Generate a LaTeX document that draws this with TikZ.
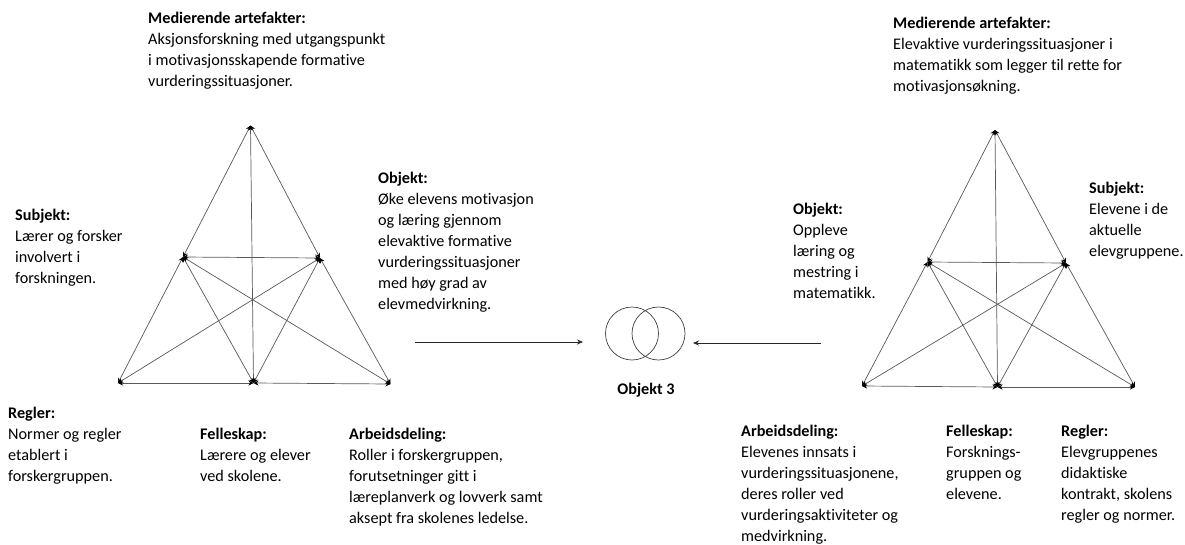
\documentclass[tikz,border=0pt]{standalone}
\usepackage{fontspec}
\setmainfont{Carlito}[Ligatures=NoCommon]
\usetikzlibrary{arrows.meta}

\begin{document}
\begin{tikzpicture}[x=1pt,y=-1pt,
    lbl/.style={anchor=base west, align=left, inner sep=0pt, font=\fontsize{16.2}{21}\selectfont},
    kante/.style={draw=black!65, line width=0.7pt, {Stealth[length=5pt,width=5pt,black]}-{Stealth[length=5pt,width=5pt,black]}},
    pfeil/.style={draw=black!85, line width=0.7pt, -{Stealth[length=6pt,width=5pt]}},
    ring/.style={circle, draw=black!75, line width=0.7pt, minimum size=53pt, inner sep=0pt}]

    % Rahmen
    \useasboundingbox (0,0) rectangle (1185,544);

    % Dreieck links
    \coordinate (lT) at (250.5,125.5);
    \coordinate (lM1) at (183,257);
    \coordinate (lM2) at (320,258);
    \coordinate (lB1) at (118,383);
    \coordinate (lB2) at (253.5,383);
    \coordinate (lB3) at (390.5,384);

    % Dreieck rechts
    \coordinate (rT) at (995,130);
    \coordinate (rM1) at (927.5,262);
    \coordinate (rM2) at (1066,263);
    \coordinate (rB1) at (862,386);
    \coordinate (rB2) at (997.5,387);
    \coordinate (rB3) at (1135,387);

    % Kanten
    \foreach \p in {l,r}{
        \foreach \a/\b in {T/M1, M1/B1, T/M2, M2/B3, T/B2, B1/B2, B2/B3, M1/M2, M1/B2, M1/B3, M2/B1, M2/B2}
            \draw[kante] (\p\a) -- (\p\b);
    }

    % Objekt 3
    \node[ring] (o1) at (632,333.5) {};
    \node[ring] (o2) at (658.5,333.5) {};
    \node[anchor=base, inner sep=0pt, font=\fontsize{16.2}{21}\selectfont\bfseries] (o3) at (646,394) {Objekt 3};

    \coordinate (pl0) at (415,342);
    \coordinate (pl1) at (583,342);
    \coordinate (pr0) at (821,343);
    \coordinate (pr1) at (693,343);
    \draw[pfeil] (pl0) -- (pl1);
    \draw[pfeil] (pr0) -- (pr1);

    % Texte links (Anker = Grundlinie der letzten Zeile)
    \node[lbl] (lmed) at (148,86) {\textbf{Medierende artefakter:}\\Aksjonsforskning med utgangspunkt\\i motivasjonsskapende formative\\vurderingssituasjoner.};
    \node[lbl] (lsub) at (15,283) {\textbf{Subjekt:}\\Lærer og forsker\\involvert i\\forskningen.};
    \node[lbl] (lobj) at (378,309) {\textbf{Objekt:}\\Øke elevens motivasjon\\og læring gjennom\\elevaktive formative\\vurderingssituasjoner\\med høy grad av\\elevmedvirkning.};
    \node[lbl] (lreg) at (8,481) {\textbf{Regler:}\\Normer og regler\\etablert i\\forskergruppen.};
    \node[lbl] (lfel) at (200,481) {\textbf{Felleskap:}\\Lærere og elever\\ved skolene.};
    \node[lbl] (larb) at (349,523) {\textbf{Arbeidsdeling:}\\Roller i forskergruppen,\\forutsetninger gitt i\\læreplanverk og lovverk samt\\aksept fra skolenes ledelse.};

    % Texte rechts
    \node[lbl] (rmed) at (893,91) {\textbf{Medierende artefakter:}\\Elevaktive vurderingssituasjoner i\\matematikk som legger til rette for\\motivasjonsøkning.};
    \node[lbl] (robj) at (793,298) {\textbf{Objekt:}\\Oppleve\\læring og\\mestring i\\matematikk.};
    \node[lbl] (rsub) at (1089,256) {\textbf{Subjekt:}\\Elevene i de\\aktuelle\\elevgruppene.};
    \node[lbl] (rarb) at (741,541) {\textbf{Arbeidsdeling:}\\Elevenes innsats i\\vurderingssituasjonene,\\deres roller ved\\vurderingsaktiviteter og\\medvirkning.};
    \node[lbl] (rfel) at (946,499) {\textbf{Felleskap:}\\Forsknings-\\gruppen og\\elevene.};
    \node[lbl] (rreg) at (1061,520) {\textbf{Regler:}\\Elevgruppenes\\didaktiske\\kontrakt, skolens\\regler og normer.};

\end{tikzpicture}
\end{document}
